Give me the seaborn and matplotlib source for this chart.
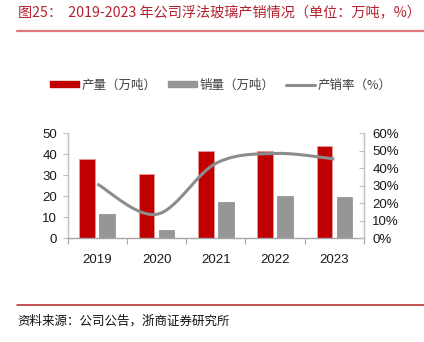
import numpy as np
import pandas as pd
import matplotlib
matplotlib.use("Agg")
import matplotlib.pyplot as plt
import seaborn as sns
from matplotlib.patches import Patch
from matplotlib.lines import Line2D
from matplotlib.ticker import FixedLocator, FuncFormatter

# ---- data ----
years = ["2019", "2020", "2021", "2022", "2023"]
production = [37.6, 30.5, 41.4, 41.6, 43.8]   # 产量（万吨）
sales = [11.4, 4.1, 17.4, 20.0, 19.7]         # 销量（万吨）
rate = [31.0, 13.7, 42.8, 48.5, 45.3]         # 产销率（%）
left_ticks = [0, 10, 20, 30, 40, 50]
right_ticks = [0, 10, 20, 30, 40, 50, 60]

RED = "#C00000"
GRAY = "#969696"
LINE_GRAY = "#8C8C8C"
AXIS_GRAY = "#BFBFBF"
CJK = ["Noto Sans CJK SC", "DejaVu Sans"]
LATIN = ["Liberation Sans", "DejaVu Sans"]

sns.set_theme(style="white")
plt.rcParams["font.family"] = LATIN

df = pd.DataFrame({
    "year": years * 2,
    "value": production + sales,
    "series": ["产量（万吨）"] * len(years) + ["销量（万吨）"] * len(years),
})

fig = plt.figure(figsize=(4.24, 3.42), dpi=100)
ax = fig.add_axes([67.7 / 424, 1 - 238.3 / 342, 296.3 / 424, 105 / 342])

sns.barplot(data=df, x="year", y="value", hue="series",
            palette=[RED, GRAY], saturation=1, width=0.676, gap=0.216,
            legend=False, ax=ax)
for cont, ec in zip(ax.containers, ["#E89A9A", GRAY]):
    for bar in cont:
        bar.set_edgecolor(ec)
        bar.set_linewidth(0.6)

ax.set_xlim(-0.5, len(years) - 0.5)
ax.set_ylim(0, 50)
ax.yaxis.set_major_locator(FixedLocator(left_ticks))
ax.set_xlabel("")
ax.set_ylabel("")

# smoothed rate curve (cardinal spline through the yearly points)
def smooth_curve(xv, yv, n=40):
    pts = np.column_stack([xv, yv]).astype(float)
    ext = np.vstack([pts[0], pts, pts[-1]])
    out = []
    for i in range(len(pts) - 1):
        p0, p1, p2, p3 = ext[i], ext[i + 1], ext[i + 2], ext[i + 3]
        c1 = p1 + (p2 - p0) / 6
        c2 = p2 - (p3 - p1) / 6
        t = np.linspace(0, 1, n)[:, None]
        seg = ((1 - t) ** 3) * p1 + 3 * ((1 - t) ** 2) * t * c1 \
            + 3 * (1 - t) * t ** 2 * c2 + t ** 3 * p2
        out.append(seg if i == 0 else seg[1:])
    seg = np.vstack(out)
    return seg[:, 0], seg[:, 1]

ax2 = ax.twinx()
cx, cy = smooth_curve(np.arange(len(years)), rate)
ax2.plot(cx, cy, color=LINE_GRAY, lw=2.2, solid_capstyle="butt")
ax2.set_ylim(0, 60)
ax2.yaxis.set_major_locator(FixedLocator(right_ticks))
ax2.yaxis.set_major_formatter(FuncFormatter(lambda v, p: f"{v:.0f}%"))

# spines and ticks
for s in ["top", "right"]:
    ax.spines[s].set_visible(False)
for s in ["top", "left", "bottom"]:
    ax2.spines[s].set_visible(False)
ax.spines["left"].set_color(AXIS_GRAY)
ax.spines["bottom"].set_color("#A6A6A6")
ax2.spines["right"].set_color(AXIS_GRAY)
for sp in [ax.spines["left"], ax.spines["bottom"], ax2.spines["right"]]:
    sp.set_linewidth(1.0)

ax.tick_params(axis="y", left=True, length=3.5, width=0.8, color=AXIS_GRAY,
               labelsize=9.5, labelcolor="#1a1a1a", pad=4)
ax2.tick_params(axis="y", right=True, direction="in", length=3.5, width=0.8,
                color=AXIS_GRAY, labelsize=9.5, labelcolor="#1a1a1a", pad=6)
ax.tick_params(axis="x", which="major", bottom=False, labelsize=9.5,
               labelcolor="#1a1a1a", pad=5)
ax.xaxis.set_minor_locator(FixedLocator(np.arange(-0.5, len(years), 1.0)))
ax.tick_params(axis="x", which="minor", bottom=True, length=4, width=0.8,
               color="#A6A6A6")

# legend
handles = [
    Patch(facecolor=RED, edgecolor=RED),
    Patch(facecolor=GRAY, edgecolor=GRAY),
    Line2D([0], [0], color=LINE_GRAY, lw=2.2),
]
labels = ["产量（万吨）", "销量（万吨）", "产销率（%）"]
fig.legend(handles, labels, loc="center", bbox_to_anchor=(221 / 424, 1 - 85 / 342),
           ncol=3, frameon=False, handlelength=2.3, handleheight=0.45,
           handletextpad=0.25, columnspacing=0.9,
           prop={"family": CJK, "size": 9}, labelcolor="#404040")

# title, rules and source note
fig.text(18 / 424, 1 - 13 / 342, "图25：  2019-2023 年公司浮法玻璃产销情况（单位：万吨，%）",
         fontsize=10.2, color="#B5202E", family=CJK, va="center", ha="left")
fig.add_artist(Line2D([17 / 424, 1.0], [1 - 31 / 342] * 2, color="#E07A7A",
                      lw=1.6, transform=fig.transFigure))
fig.add_artist(Line2D([17 / 424, 1.0], [1 - 305 / 342] * 2, color="#B22222",
                      lw=1.1, transform=fig.transFigure))
fig.text(17 / 424, 1 - 321 / 342, "资料来源：公司公告，浙商证券研究所",
         fontsize=9, color="#111111", family=CJK, va="center", ha="left")

fig.savefig("out.png", dpi=100, facecolor="white")
